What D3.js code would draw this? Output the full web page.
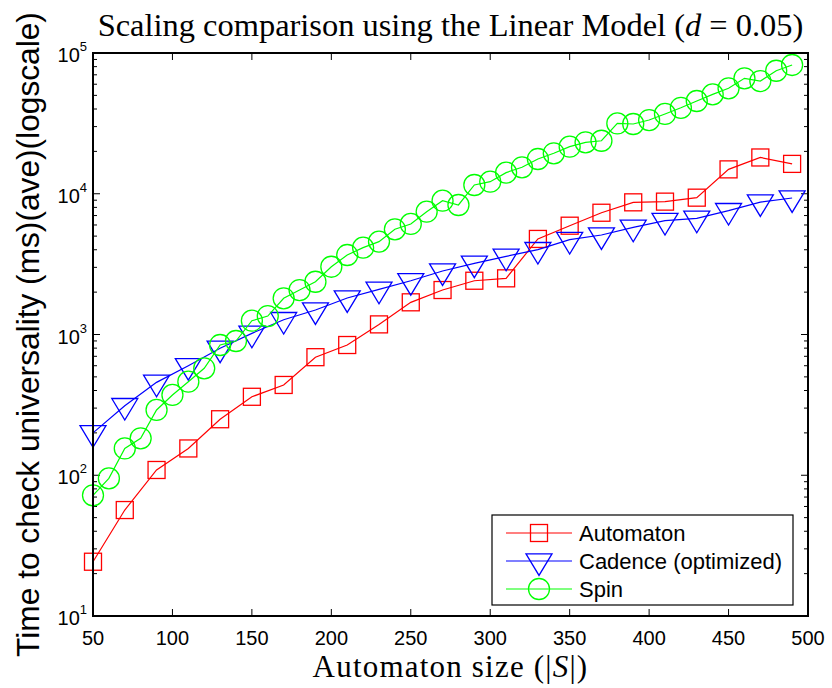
<!DOCTYPE html>
<html>
<head>
<meta charset="utf-8">
<script src="https://cdn.jsdelivr.net/npm/d3@7"></script>
<style>
  body { margin: 0; background: #fff; }
  svg { display: block; }
</style>
</head>
<body>
<div id="chart"></div>
<script>
// chart data
var spinSizes = [50, 60, 70, 80, 90, 100, 110, 120, 130, 140, 150, 160, 170, 180, 190, 200, 210, 220, 230, 240,
  250, 260, 270, 280, 290, 300, 310, 320, 330, 340, 350, 360, 370, 380, 390, 400, 410, 420, 430, 440,
  450, 460, 470, 480, 490];
var spinTimes = [72, 95, 155, 183, 291, 372, 462, 575, 842, 899, 1253, 1352, 1807, 2070, 2370, 3030, 3670, 4140, 4570, 5590,
  6100, 7460, 8930, 8320, 11540, 12180, 14130, 15420, 17650, 19380, 21600, 23200, 23800, 31600, 31300, 33400, 36900, 40800, 45600, 50800,
  56100, 66100, 63200, 74800, 82200];

var sizes = [50, 70, 90, 110, 130, 150, 170, 190, 210, 230, 250, 270, 290, 310, 330, 350, 370, 390, 410, 430, 450, 470, 490];
var automatonTimes = [24.3, 56.6, 109, 155, 250, 361, 438, 690, 842, 1180, 1693, 2070, 2410, 2506, 4775, 5930, 7330, 8690, 8790, 9380, 14900, 18100, 16300];
var cadenceTimes = [200, 312, 457, 600, 798, 1019, 1274, 1493, 1816, 2094, 2410, 2825, 3205, 3592, 4005, 4720, 5090, 5770, 6440, 6690, 7580, 8730, 9330];

var seriesNames = ["Automaton", "Cadence (optimized)", "Spin"];
var xTicks = [50, 100, 150, 200, 250, 300, 350, 400, 450, 500];
var yExponents = [1, 2, 3, 4, 5];

var svgWidth = 832;
var svgHeight = 688;

var margin = { top: 53, right: 24, bottom: 72, left: 93 };
var width = svgWidth - margin.left - margin.right;
var height = svgHeight - margin.top - margin.bottom;

var svg = d3.select("#chart")
  .append("svg")
  .attr("width", svgWidth)
  .attr("height", svgHeight);

var chartGroup = svg.append("g")
  .attr("transform", `translate(${margin.left}, ${margin.top})`);

var xScale = d3.scaleLinear().domain([50, 500]).range([0, width]);
var yScale = d3.scaleLog().domain([10, 100000]).range([height, 0]);

var sansFont = "'Liberation Sans', Arial, sans-serif";
var serifFont = "'Liberation Serif', 'Times New Roman', serif";

// ticks: major + minor on the log axis, all pointing inward, on every side
var minorTicks = [];
yExponents.slice(0, -1).forEach(function(e) {
  for (var m = 2; m <= 9; m++) minorTicks.push(m * Math.pow(10, e));
});

var tickGroup = chartGroup.append("g").attr("stroke", "#000").attr("stroke-width", 1);

xTicks.slice(1, -1).forEach(function(t) {
  tickGroup.append("line").attr("x1", xScale(t)).attr("x2", xScale(t)).attr("y1", height).attr("y2", height - 7);
  tickGroup.append("line").attr("x1", xScale(t)).attr("x2", xScale(t)).attr("y1", 0).attr("y2", 7);
});
yExponents.forEach(function(e) {
  var y = yScale(Math.pow(10, e));
  tickGroup.append("line").attr("x1", 0).attr("x2", 7).attr("y1", y).attr("y2", y);
  tickGroup.append("line").attr("x1", width).attr("x2", width - 7).attr("y1", y).attr("y2", y);
});
minorTicks.forEach(function(v) {
  var y = yScale(v);
  tickGroup.append("line").attr("x1", 0).attr("x2", 4).attr("y1", y).attr("y2", y);
  tickGroup.append("line").attr("x1", width).attr("x2", width - 4).attr("y1", y).attr("y2", y);
});

// x tick labels
chartGroup.append("g").selectAll("text")
  .data(xTicks)
  .enter()
  .append("text")
  .attr("x", d => xScale(d))
  .attr("y", height + 29)
  .attr("text-anchor", "middle")
  .attr("font-family", sansFont)
  .attr("font-size", 20)
  .text(d => d);

// y tick labels as 10^n
var yLabels = chartGroup.append("g").selectAll("text")
  .data(yExponents)
  .enter()
  .append("text")
  .attr("x", -6)
  .attr("y", d => yScale(Math.pow(10, d)) + 9)
  .attr("text-anchor", "end")
  .attr("font-family", sansFont)
  .attr("font-size", 20);
yLabels.append("tspan").text("10");
yLabels.append("tspan")
  .attr("dy", -11)
  .attr("font-size", 13)
  .text(d => d);

// series
var series = [
  { name: seriesNames[0], xs: sizes, ys: automatonTimes, color: "#ff0000", marker: "square" },
  { name: seriesNames[1], xs: sizes, ys: cadenceTimes, color: "#0000ff", marker: "triangle" },
  { name: seriesNames[2], xs: spinSizes, ys: spinTimes, color: "#00ff00", marker: "circle" }
];

function drawMarker(g, kind, cx, cy, color) {
  if (kind === "square") {
    g.append("rect")
      .attr("x", cx - 8.5).attr("y", cy - 8.5)
      .attr("width", 17).attr("height", 17)
      .attr("fill", "none").attr("stroke", color).attr("stroke-width", 1.3);
  }
  else if (kind === "triangle") {
    // centroid on the data point
    var pts = [[cx - 13, cy - 7.2], [cx + 13, cy - 7.2], [cx, cy + 14.4]];
    g.append("path")
      .attr("d", "M" + pts.join("L") + "Z")
      .attr("fill", "none").attr("stroke", color).attr("stroke-width", 1.3);
  }
  else {
    g.append("circle")
      .attr("cx", cx).attr("cy", cy).attr("r", 10.5)
      .attr("fill", "none").attr("stroke", color).attr("stroke-width", 1.3);
  }
}

var line = d3.line()
  .x(d => xScale(d[0]))
  .y(d => yScale(d[1]));

series.forEach(function(s) {
  var pts = s.xs.map((x, i) => [x, s.ys[i]]);
  var g = chartGroup.append("g");
  g.append("path")
    .datum(pts)
    .attr("d", line)
    .attr("fill", "none")
    .attr("stroke", s.color)
    .attr("stroke-width", 1.2);
  pts.forEach(function(p) {
    drawMarker(g, s.marker, xScale(p[0]), yScale(p[1]), s.color);
  });
});

// axes frame
chartGroup.append("rect")
  .attr("x", 0).attr("y", 0)
  .attr("width", width).attr("height", height)
  .attr("fill", "none")
  .attr("stroke", "#000")
  .attr("stroke-width", 2);

// legend
var legend = svg.append("g");
legend.append("rect")
  .attr("x", 492).attr("y", 515)
  .attr("width", 301).attr("height", 90)
  .attr("fill", "#fff")
  .attr("stroke", "#000")
  .attr("stroke-width", 1.2);

series.forEach(function(s, i) {
  var ly = 533 + i * 28;
  legend.append("line")
    .attr("x1", 506).attr("x2", 572)
    .attr("y1", ly).attr("y2", ly)
    .attr("stroke", s.color).attr("stroke-width", 1.2);
  drawMarker(legend, s.marker, 539, ly, s.color);
  legend.append("text")
    .attr("x", 579).attr("y", ly + 8)
    .attr("font-family", sansFont)
    .attr("font-size", 22)
    .text(s.name);
});

// fit a text element to a target width by changing its font size
function fitWidth(sel, target) {
  var w = sel.node().getComputedTextLength();
  var fs = +sel.attr("font-size");
  sel.attr("font-size", fs * target / w);
}

// title
var title = svg.append("text")
  .attr("x", margin.left + width / 2)
  .attr("y", 36)
  .attr("text-anchor", "middle")
  .attr("font-family", serifFont)
  .attr("font-size", 26);
title.append("tspan").text("Scaling comparison using the Linear Model (");
title.append("tspan").attr("font-style", "italic").text("d");
title.append("tspan").text(" = 0.05)");
fitWidth(title, 706);

// x axis label
var xLabel = svg.append("text")
  .attr("x", margin.left + width / 2)
  .attr("y", 677)
  .attr("text-anchor", "middle")
  .attr("font-family", serifFont)
  .attr("font-size", 31)
  .attr("letter-spacing", 1.2);
xLabel.append("tspan").text("Automaton size (|");
xLabel.append("tspan").attr("font-style", "italic").text("S");
xLabel.append("tspan").text("|)");

// y axis label
var yLabel = svg.append("text")
  .attr("transform", `translate(39, ${margin.top + height / 2}) rotate(-90)`)
  .attr("text-anchor", "middle")
  .attr("font-family", sansFont)
  .attr("font-size", 26)
  .text("Time to check universality (ms)(ave)(logscale)");
fitWidth(yLabel, 645);
</script>
</body>
</html>
